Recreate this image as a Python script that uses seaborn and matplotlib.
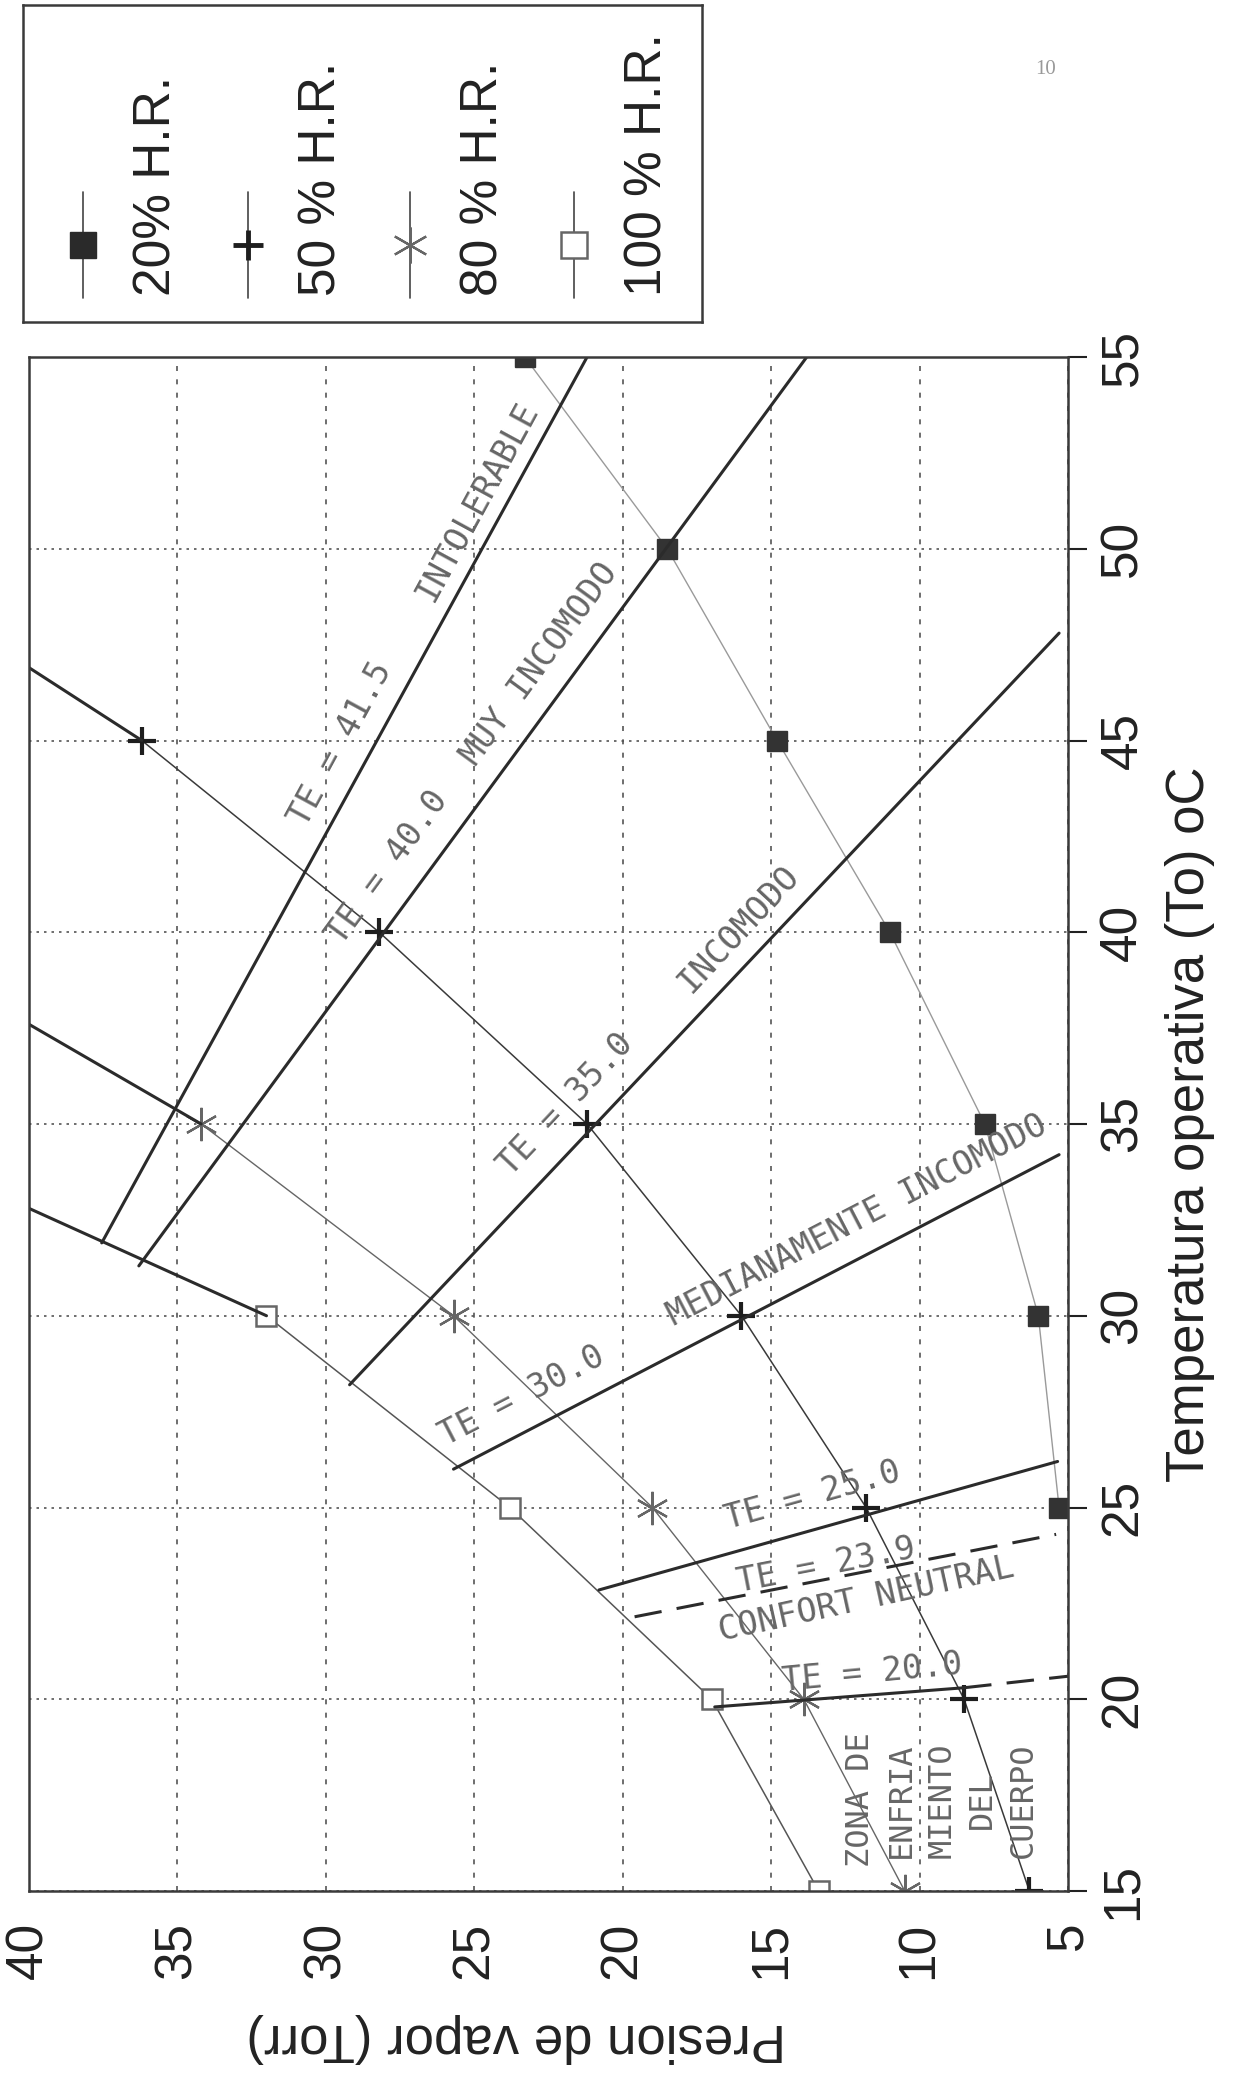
import numpy as np
import seaborn as sns
import matplotlib.pyplot as plt

sns.set_style("white")
plt.rcParams["font.family"] = ["Liberation Sans", "DejaVu Sans"]

# humidity curves: temperatura operativa (oC) vs presion de vapor (Torr)
temp_20 = [25, 30, 35, 40, 45, 50, 55]
pres_20 = [5.3, 6.0, 7.8, 11.0, 14.8, 18.5, 23.3]
temp_50 = [15, 20, 25, 30, 35, 40, 45]
pres_50 = [6.3, 8.5, 11.8, 16.0, 21.2, 28.2, 36.2]
temp_80 = [15, 20, 25, 30, 35]
pres_80 = [10.5, 13.9, 19.0, 25.7, 34.2]
temp_100 = [15, 20, 25, 30]
pres_100 = [13.4, 17.0, 23.8, 32.0]

# upper limit segments (curves carried on to 40 Torr)
ext_temp = [[30, 32.8], [35, 37.6], [45, 46.9]]
ext_pres = [[32.0, 40.0], [34.2, 40.0], [36.2, 40.0]]

# effective temperature (TE) lines
te_names = ["41.5", "40.0", "35.0", "30.0", "25.0", "23.9"]
te_pres = [[37.55, 21.2], [36.3, 13.8], [29.2, 5.3], [25.7, 5.3], [20.8, 5.35], [19.6, 5.4]]
te_temp = [[31.9, 55.0], [31.3, 55.0], [28.2, 47.8], [26.0, 34.2], [22.85, 26.2], [22.15, 24.3]]
te20_pres = [16.9, 8.5, 5.0]
te20_temp = [19.8, 20.3, 20.6]

# labels inside the chart: text, pressure, temperature, angle
zone_text = ["INTOLERABLE", "TE = 41.5", "TE = 40.0", "MUY INCOMODO", "INCOMODO",
             "TE = 35.0", "MEDIANAMENTE INCOMODO", "TE = 30.0", "TE = 25.0",
             "TE = 23.9", "CONFORT NEUTRAL", "TE = 20.0"]
zone_pres = [24.9, 29.5, 27.9, 22.8, 16.1, 21.9, 12.1, 23.4, 13.6, 13.15, 11.8, 11.6]
zone_temp = [51.25, 44.9, 41.7, 47.0, 40.1, 35.5, 32.5, 27.9, 25.3, 23.5, 22.6, 20.7]
zone_rot = [61.5, 61.5, 53.8, 53.8, 46.9, 46.9, 27.4, 27.4, 15.6, 11.0, 12.4, 5.5]
cold_text = "ZONA DE\nENFRIA\nMIENTO\nDEL\nCUERPO"

pres_ticks = [40, 35, 30, 25, 20, 15, 10, 5]
temp_ticks = [15, 20, 25, 30, 35, 40, 45, 50, 55]
legend_labels = ["20% H.R.", "50 % H.R.", "80 % H.R.", "100 % H.R."]

W, H = 1240, 2089
fig = plt.figure(figsize=(W / 100, H / 100), dpi=100)
ax = fig.add_axes([29 / W, 1 - 1891 / H, 1039 / W, 1534 / H])

dark = "#2b2b2b"
star = (6, 2, 0)

# curves of relative humidity
sns.lineplot(x=pres_20, y=temp_20, sort=False, estimator=None, ax=ax, color="#9a9a9a", lw=1.0,
             marker="s", ms=15, mfc="#333333", mec="#333333", mew=1)
sns.lineplot(x=pres_50, y=temp_50, sort=False, estimator=None, ax=ax, color="#3a3a3a", lw=1.1,
             marker="+", ms=20, mec="#1e1e1e", mew=3)
sns.lineplot(x=pres_80, y=temp_80, sort=False, estimator=None, ax=ax, color="#666666", lw=1.0,
             marker=star, ms=24, mec="#666666", mew=1.6)
sns.lineplot(x=pres_100, y=temp_100, sort=False, estimator=None, ax=ax, color="#555555", lw=1.1,
             marker="s", ms=15, mfc="white", mec="#666666", mew=1.8)

for t, p in zip(ext_temp, ext_pres):
    sns.lineplot(x=p, y=t, sort=False, estimator=None, ax=ax, color=dark, lw=2.2)

# TE lines
for name, p, t in zip(te_names, te_pres, te_temp):
    ls = (0, (9, 5)) if name == "23.9" else "-"
    sns.lineplot(x=p, y=t, sort=False, estimator=None, ax=ax, color=dark, lw=2.2, linestyle=ls)
sns.lineplot(x=te20_pres[:2], y=te20_temp[:2], sort=False, estimator=None, ax=ax, color=dark, lw=2.2)
sns.lineplot(x=te20_pres[1:], y=te20_temp[1:], sort=False, estimator=None, ax=ax, color=dark,
             lw=2.2, linestyle=(0, (9, 5)))

for s, p, t, r in zip(zone_text, zone_pres, zone_temp, zone_rot):
    ax.text(p, t, s, rotation=r, rotation_mode="anchor", ha="center", va="center",
            fontsize=24, family="DejaVu Sans Mono", color="#666666")
ax.text(9.24, 17.37, cold_text, rotation=90, rotation_mode="anchor", ha="center", va="center",
        multialignment="center", linespacing=1.4, fontsize=23, family="DejaVu Sans Mono",
        color="#666666")

# axes
ax.set_xlim(40, 5)
ax.set_ylim(15, 55)
ax.set_xticks(pres_ticks)
ax.set_yticks(temp_ticks)
ax.xaxis.grid(True, linestyle=(0, (3, 5)), color="#555555", lw=1.2)
ax.yaxis.grid(True, linestyle=(0, (1.5, 3)), color="#555555", lw=1.2)
ax.set_axisbelow(True)
for s in ax.spines.values():
    s.set_color("#3a3a3a")
    s.set_linewidth(1.8)

ax.yaxis.tick_right()
ax.tick_params(axis="y", which="both", right=True, left=False, direction="out", length=14,
               width=1.5, pad=8, labelsize=37, labelrotation=90, colors="#222222")
ax.tick_params(axis="x", direction="inout", length=20, width=1.5, pad=12, labelsize=37,
               labelrotation=90, colors="#222222")
for lab in ax.get_yticklabels():
    lab.set_va("center")

ax.set_xlabel("Presion de vapor (Torr)", fontsize=38, rotation=180, color="#222222")
ax.xaxis.set_label_coords(0.469, -0.096)
ax.xaxis.label.set_va("center")
ax.yaxis.set_label_position("right")
ax.set_ylabel("Temperatura operativa (To) oC", fontsize=38, rotation=90, color="#222222")
ax.yaxis.set_label_coords(1.117, 0.5)
ax.yaxis.label.set_va("center")
ax.yaxis.label.set_ha("center")

# legend box (rotated like the rest of the page)
leg = fig.add_axes([23 / W, 1 - 322 / H, 679 / W, 317 / H])
leg.set_xlim(23, 702)
leg.set_ylim(322, 5)
leg.set_xticks([])
leg.set_yticks([])
for s in leg.spines.values():
    s.set_color("#3a3a3a")
    s.set_linewidth(1.8)

leg_x = [83, 248, 410, 574]
leg_style = [
    dict(marker="s", ms=19, mfc="#2a2a2a", mec="#2a2a2a", mew=1),
    dict(marker="+", ms=22, mec="#1e1e1e", mew=3.5),
    dict(marker=star, ms=26, mec="#666666", mew=1.6),
    dict(marker="s", ms=19, mfc="white", mec="#666666", mew=1.8),
]
for x, st, lab in zip(leg_x, leg_style, legend_labels):
    leg.plot([x, x], [192, 298], color="#444444", lw=1.2)
    leg.plot([x], [245], **st)
    leg.text(x + 74, 296, lab, rotation=90, ha="center", va="bottom", fontsize=37, color="#222222")

fig.text(1046 / W, 1 - 69 / H, "10", fontsize=15, color="#999999", family="Liberation Serif",
         ha="center", va="center")

fig.savefig("out.png", dpi=100, facecolor="white")
